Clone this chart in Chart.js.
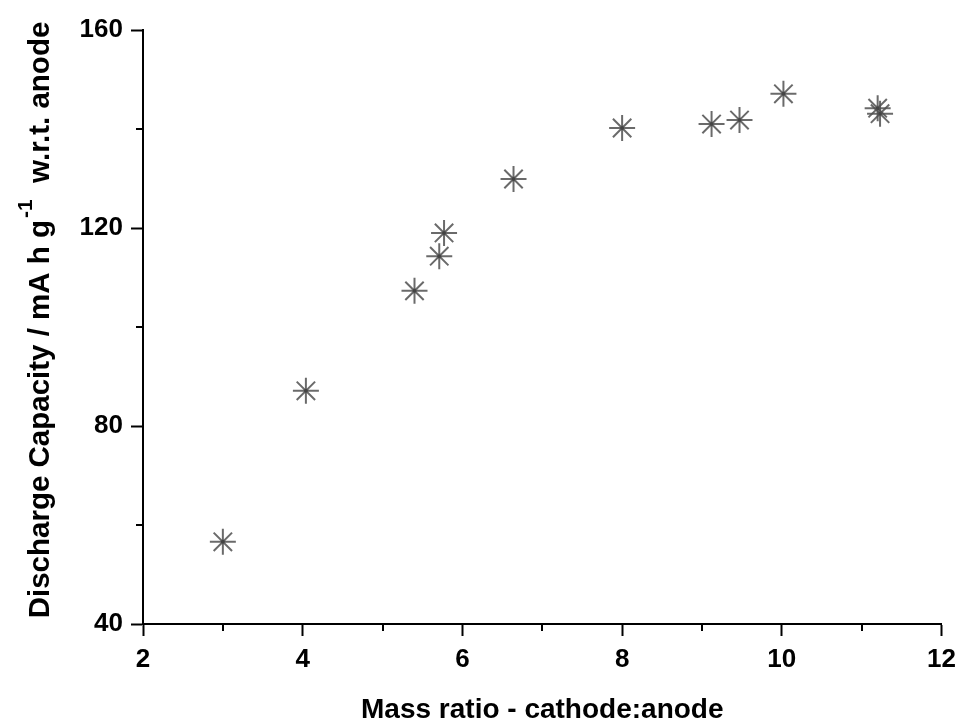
<!DOCTYPE html>
<html>
<head>
<meta charset="utf-8">
<script src="https://cdn.jsdelivr.net/npm/chart.js@4.4.0/dist/chart.umd.min.js"></script>
<style>
  html, body { margin: 0; padding: 0; background: #fff; }
  #wrap { width: 964px; height: 722px; position: relative; }
</style>
</head>
<body>
<div id="wrap"><canvas id="cap_chart"></canvas></div>
<script>
// values
const massRatio = [3.0, 4.04, 5.4, 5.71, 5.77, 6.64, 8.0, 9.12, 9.47, 10.02, 11.2, 11.23];
const capacity  = [56.6, 87.1, 107.3, 114.3, 119.0, 129.9, 140.2, 141.0, 141.8, 147.1, 144.2, 143.1];

const xMajorTicks = [2, 4, 6, 8, 10, 12];
const xMinorTicks = [3, 5, 7, 9, 11];
const yMajorTicks = [40, 80, 120, 160];
const yMinorTicks = [60, 100, 140];

const xTitle = "Mass ratio - cathode:anode";
const yTitleParts = ["Discharge Capacity / mA h g", "-1", "  w.r.t. anode"];

const fontFam = "'Liberation Sans', Arial, sans-serif";

let points = massRatio.map(function(x, i){ return {x: x, y: capacity[i]}; });

// minor ticks + axis titles
const extras = {
    id: "extras",
    afterDraw: function(chart){
        let ctx = chart.ctx;
        let xs = chart.scales.x;
        let ys = chart.scales.y;
        let area = chart.chartArea;
        ctx.save();
        ctx.strokeStyle = "#000";
        ctx.lineWidth = 2;
        xMinorTicks.forEach(function(v){
            let px = Math.round(xs.getPixelForValue(v));
            ctx.beginPath();
            ctx.moveTo(px, area.bottom);
            ctx.lineTo(px, area.bottom + 7);
            ctx.stroke();
        });
        yMinorTicks.forEach(function(v){
            let py = Math.round(ys.getPixelForValue(v));
            ctx.beginPath();
            ctx.moveTo(area.left - 7, py);
            ctx.lineTo(area.left, py);
            ctx.stroke();
        });

        // x title
        ctx.fillStyle = "#000";
        ctx.font = "bold 28px " + fontFam;
        ctx.textAlign = "center";
        ctx.textBaseline = "alphabetic";
        ctx.fillText(xTitle, (area.left + area.right) / 2, 718);

        // y title with superscript
        ctx.translate(49, 320);
        ctx.rotate(-Math.PI / 2);
        let mainFont = "bold 29.5px " + fontFam;
        let supFont = "bold 21px " + fontFam;
        ctx.font = mainFont;
        let w0 = ctx.measureText(yTitleParts[0]).width;
        let w2 = ctx.measureText(yTitleParts[2]).width;
        ctx.font = supFont;
        let w1 = ctx.measureText(yTitleParts[1]).width + 2;
        let total = w0 + w1 + w2;
        let sx = -total / 2;
        ctx.textAlign = "left";
        ctx.font = mainFont;
        ctx.fillText(yTitleParts[0], sx, 0);
        ctx.font = supFont;
        ctx.fillText(yTitleParts[1], sx + w0 + 2, -17);
        ctx.font = mainFont;
        ctx.fillText(yTitleParts[2], sx + w0 + w1, 0);
        ctx.restore();
    }
};

new Chart(document.getElementById("cap_chart"), {
    type: "scatter",
    data: {
        datasets: [
            {
                label: "capacity",
                data: points,
                pointStyle: "star",
                pointRadius: 13,
                pointHoverRadius: 13,
                borderColor: "rgba(80,80,80,0.85)",
                backgroundColor: "rgba(80,80,80,0.85)",
                pointBorderWidth: 2
            },
            {
                label: "centre",
                data: points,
                pointStyle: "circle",
                pointRadius: 2,
                borderColor: "#000",
                backgroundColor: "#000",
                pointBorderWidth: 0
            }
        ]
    },
    options: {
        responsive: true,
        maintainAspectRatio: false,
        animation: false,
        layout: { padding: { left: 0, top: 30, right: 20, bottom: 0 } },
        plugins: {
            legend: { display: false },
            tooltip: { enabled: false }
        },
        scales: {
            x: {
                type: "linear",
                min: 2,
                max: 12,
                afterBuildTicks: function(scale){
                    scale.ticks = xMajorTicks.map(function(v){ return {value: v}; });
                },
                afterFit: function(scale){ scale.height = 98; },
                grid: {
                    drawOnChartArea: false,
                    drawTicks: true,
                    tickLength: 12,
                    tickColor: "#000",
                    tickWidth: 2
                },
                border: { display: true, color: "#000", width: 2 },
                ticks: {
                    color: "#000",
                    padding: 8,
                    maxRotation: 0,
                    font: { family: fontFam, size: 26, weight: "bold" }
                }
            },
            y: {
                type: "linear",
                min: 40,
                max: 160,
                afterBuildTicks: function(scale){
                    scale.ticks = yMajorTicks.map(function(v){ return {value: v}; });
                },
                afterFit: function(scale){ scale.width = 143; },
                grid: {
                    drawOnChartArea: false,
                    drawTicks: true,
                    tickLength: 12,
                    tickColor: "#000",
                    tickWidth: 2
                },
                border: { display: true, color: "#000", width: 2 },
                ticks: {
                    color: "#000",
                    padding: 8,
                    font: { family: fontFam, size: 26, weight: "bold" }
                }
            }
        }
    },
    plugins: [extras]
});
</script>
</body>
</html>
